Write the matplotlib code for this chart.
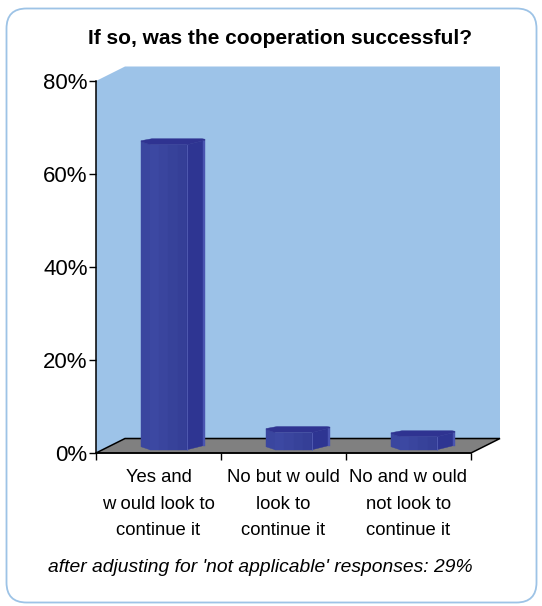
import matplotlib
matplotlib.use("Agg")
import matplotlib.pyplot as plt
from matplotlib.patches import Polygon, FancyBboxPatch

categories = ["Yes and\nw ould look to\ncontinue it",
              "No but w ould\nlook to\ncontinue it",
              "No and w ould\nnot look to\ncontinue it"]
values = [65.6, 3.7, 2.8]
y_ticks = [0, 20, 40, 60, 80]
title = "If so, was the cooperation successful?"
note = "after adjusting for 'not applicable' responses: 29%"

W, H = 542, 606
plt.rcParams['font.family'] = ['Liberation Sans', 'DejaVu Sans']
fig = plt.figure(figsize=(W/100, H/100), dpi=100, facecolor='white')

# rounded outer frame
bg = fig.add_axes([0, 0, 1, 1]); bg.set_xlim(0, W); bg.set_ylim(H, 0); bg.axis('off')
bg.add_patch(FancyBboxPatch((6.5+20, 8.5+20), 530-40, 594-40,
                            boxstyle="round,pad=20,rounding_size=20",
                            fc='white', ec='#9DC3E6', lw=1.3))

L, R, T, B = 96, 471, 81, 453
ax = fig.add_axes([L/W, 1-B/H, (R-L)/W, (B-T)/H], facecolor='none')
ax.set_xlim(0, 3); ax.set_ylim(0, 80)
px = 3/(R-L); py = 80/(B-T)          # data units per pixel
dx, dy = 29*px, 14.5*py              # depth of the 3-D box

ax.add_patch(Polygon([(0, 0), (dx, dy), (3+dx, dy), (3+dx, 80+dy), (dx, 80+dy), (0, 80)],
                     fc='#9DC3E8', ec='none', clip_on=False, zorder=1))
ax.add_patch(Polygon([(0, 0), (3, 0), (3+dx, dy), (dx, dy)],
                     fc='#808080', ec='black', lw=1.1, clip_on=False, zorder=2))

# prism footprint in px relative to the bar centre (x right, y up)
front = [(-32, 2.5), (-23, -0.5), (14, -0.5), (30, 3.5), (32, 3.5)]
back = [(32, 5), (29, 5.5), (-21, 5.5), (-32, 3.5)]
strips = ['#3A469F', '#3C48A2', '#3A459E', '#37429A', '#353F97']
side1, side2 = '#2E3592', '#4A55B0'

for i, v in enumerate(values):
    cx = i + 0.5 + dx/2
    base = dy/2 - 3.5*py
    def P(p, top):
        return (cx + p[0]*px, base + p[1]*py + (v if top else 0))
    # front strips
    x0, y0 = front[0]; x1, y1 = front[1]; x2, y2 = front[2]
    n = len(strips)
    pts = [front[0]] + [(x1 + (x2-x1)*k/(n-1), y1) for k in range(n)]
    for k in range(n):
        a, b = pts[k], pts[k+1]
        ax.add_patch(Polygon([P(a, False), P(b, False), P(b, True), P(a, True)],
                             fc=strips[k], ec=strips[k], lw=0.3, zorder=3, clip_on=False))
    a, b = front[2], front[3]
    ax.add_patch(Polygon([P(a, False), P(b, False), P(b, True), P(a, True)],
                         fc=side1, ec=side1, lw=0.3, zorder=3, clip_on=False))
    a, b = front[3], front[4]
    ax.add_patch(Polygon([P(a, False), P(b, False), P(b, True), P(a, True)],
                         fc=side2, ec=side2, lw=0.3, zorder=3, clip_on=False))
    ax.plot(*zip(P(front[2], False), P(front[2], True)), color='#5560B5', lw=0.6, zorder=4, clip_on=False)
    ax.add_patch(Polygon([P(p, True) for p in front + back],
                         fc='#2F3391', ec='#2F3391', lw=0.3, zorder=4, clip_on=False))

for s in ('top', 'right'):
    ax.spines[s].set_visible(False)
for s in ('left', 'bottom'):
    ax.spines[s].set_color('black'); ax.spines[s].set_linewidth(1.1); ax.spines[s].set_zorder(5)
ax.set_yticks(y_ticks); ax.set_yticklabels([f"{t}%" for t in y_ticks], fontsize=16)
ax.set_xticks([0, 1, 2, 3]); ax.set_xticklabels([])
ax.tick_params(axis='y', length=5, width=1, pad=1)
ax.tick_params(axis='x', length=5, width=1)
for i, c in enumerate(categories):
    ax.annotate(c, (i+0.5, 0), xytext=(0, -11.5), textcoords='offset points', ha='center', va='top',
                fontsize=13.3, linespacing=1.74, annotation_clip=False)

fig.text(280/W, 1-38/H, title, ha='center', va='center', fontsize=15, fontweight='bold')
fig.text(260/W, 1-567/H, note, ha='center', va='center', fontsize=13.9, fontstyle='italic')
fig.savefig("out.png", dpi=100)
